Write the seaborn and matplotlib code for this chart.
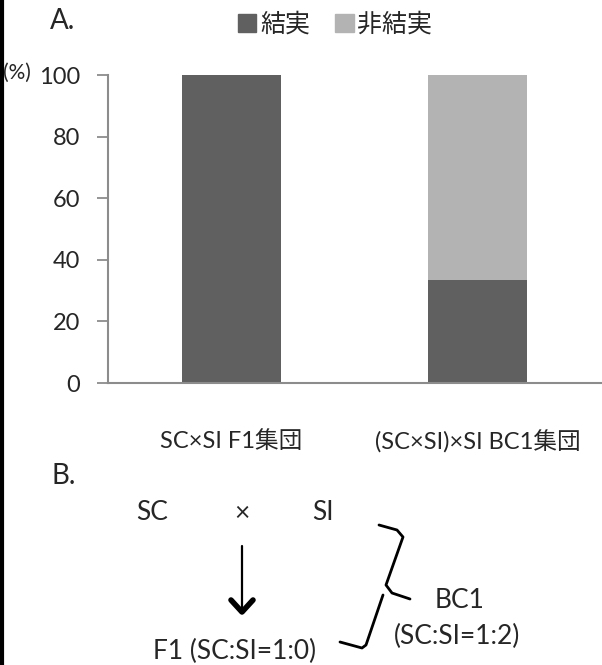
import matplotlib
matplotlib.use('Agg')
import matplotlib.pyplot as plt
import seaborn as sns
import pandas as pd
from matplotlib.patches import Patch
from matplotlib.lines import Line2D

# data
groups = ['SC×SI F1集団', '(SC×SI)×SI BC1集団']
fruit = [100, 33.3]
no_fruit = [0, 66.7]
legend_labels = ['結実', '非結実']
yticks = [0, 20, 40, 60, 80, 100]

dark = '#606060'
light = '#b3b3b3'
grey = '#8c8c8c'

sns.set_style('white')
plt.rcParams['font.family'] = ['Lato', 'Noto Sans CJK JP', 'DejaVu Sans']

W, H = 602, 665


def px(x, y):
    # pixel position (top-left origin) -> figure fraction
    return x / W, 1 - y / H


df = pd.DataFrame({'group': groups, 'fruit': fruit, 'no_fruit': no_fruit})
df['total'] = df['fruit'] + df['no_fruit']

fig = plt.figure(figsize=(W / 100, H / 100), dpi=100)
ax = fig.add_axes([108 / W, 1 - 383 / H, (601 - 108) / W, (383 - 75) / H])

sns.barplot(data=df, x='group', y='total', color=light, width=0.4, saturation=1,
            linewidth=0, edgecolor='none', ax=ax)
sns.barplot(data=df, x='group', y='fruit', color=dark, width=0.4, saturation=1,
            linewidth=0, edgecolor='none', ax=ax)

ax.set_xlim(-0.5, 1.5)
ax.set_ylim(0, 100)
ax.set_yticks(yticks)
ax.set_xlabel('')
ax.set_ylabel('')
ax.set_xticks([-0.5, 0.5, 1.5], minor=True)
ax.tick_params(axis='x', which='major', length=0, pad=34, labelsize=17)
ax.tick_params(axis='x', which='minor', length=7, color=grey, width=1.3, direction='out')
ax.tick_params(axis='y', length=8, color=grey, width=1.3, labelsize=17, pad=12, left=True)
for s in ['top', 'right']:
    ax.spines[s].set_visible(False)
for s in ['left', 'bottom']:
    ax.spines[s].set_color(grey)
    ax.spines[s].set_linewidth(1.5)

fig.text(*px(3, 73), '(%)', ha='left', va='center', fontsize=15)

handles = [Patch(color=dark, label=legend_labels[0]),
           Patch(color=light, label=legend_labels[1])]
fig.legend(handles=handles, loc='center', bbox_to_anchor=px(335, 24), ncol=2,
           frameon=False, fontsize=18, handlelength=0.75, handleheight=0.75,
           handletextpad=0.15, columnspacing=1.0)

fig.text(*px(50, 21), 'A.', ha='left', va='center', fontsize=20)
fig.text(*px(51, 476), 'B.', ha='left', va='center', fontsize=20)

# crossing diagram
fig.text(*px(152, 513), 'SC', ha='center', va='center', fontsize=19)
fig.text(*px(242, 513), '×', ha='center', va='center', fontsize=19)
fig.text(*px(323, 513), 'SI', ha='center', va='center', fontsize=19)
fig.text(*px(235, 651), 'F1 (SC:SI=1:0)', ha='center', va='center', fontsize=19)
fig.text(*px(460, 600), 'BC1', ha='center', va='center', fontsize=19)
fig.text(*px(457, 636), '(SC:SI=1:2)', ha='center', va='center', fontsize=19)


def poly(points, lw):
    xs = [px(x, y)[0] for x, y in points]
    ys = [px(x, y)[1] for x, y in points]
    fig.add_artist(Line2D(xs, ys, color='black', lw=lw,
                          solid_joinstyle='round', solid_capstyle='round'))


poly([(242, 546), (242, 608)], 1.6)
poly([(231, 600), (242, 612), (253, 600)], 4)
poly([(379, 525), (397, 530), (403, 537), (386, 585), (392, 593), (410, 599)], 2)
poly([(383, 595), (366, 645), (362, 648), (340, 642)], 2)

# left frame edge
fig.add_artist(Line2D([1.5 / W, 1.5 / W], [0, 1], color='black', lw=3))

fig.savefig('out.png', dpi=100)
